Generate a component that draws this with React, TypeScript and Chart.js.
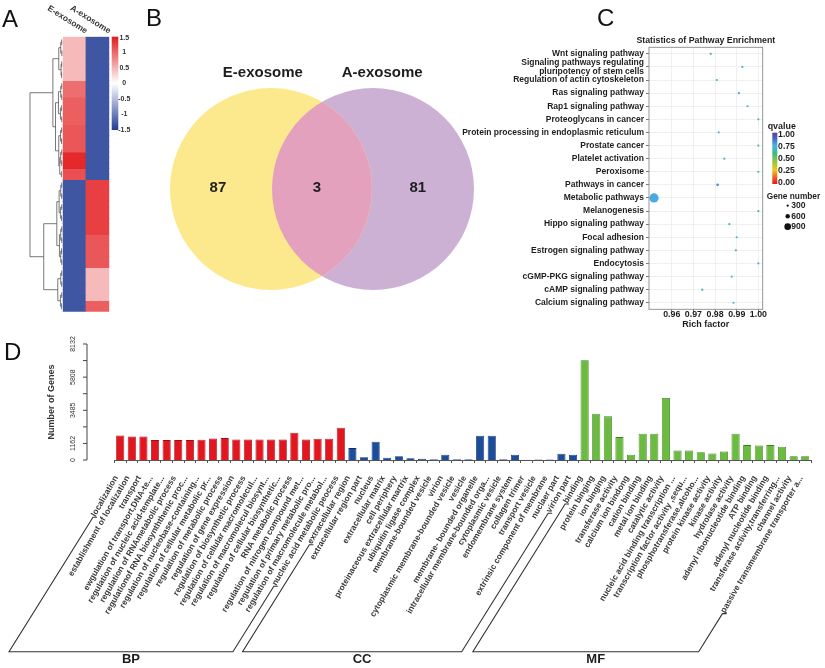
import React, { useEffect, useRef } from "react";
import { Chart, registerables } from "chart.js";

Chart.register(...registerables);

const FONT = '"Liberation Sans", Arial, Helvetica, sans-serif';
Chart.defaults.font.family = FONT;
Chart.defaults.color = "#222";

// ================= Panel A : heatmap =================
const heatColumns = ["E-exosome", "A-exosome"];
const heatE = [
  0.45, 0.45, 0.45, 0.45, 0.45, 0.45, 0.45, 0.45,
  0.95, 0.95, 0.95,
  1.05, 1.05, 1.05, 1.05, 1.05,
  1.1, 1.1, 1.1, 1.1, 1.1,
  1.4, 1.4, 1.4,
  1.15, 1.15,
  -1.3, -1.3, -1.3, -1.3, -1.3, -1.3, -1.3, -1.3, -1.3, -1.3, -1.3, -1.3,
  -1.3, -1.3, -1.3, -1.3, -1.3, -1.3, -1.3, -1.3, -1.3, -1.3, -1.3, -1.3,
];
const heatA = [
  -1.3, -1.3, -1.3, -1.3, -1.3, -1.3, -1.3, -1.3, -1.3, -1.3, -1.3, -1.3, -1.3,
  -1.3, -1.3, -1.3, -1.3, -1.3, -1.3, -1.3, -1.3, -1.3, -1.3, -1.3, -1.3, -1.3,
  1.25, 1.25, 1.25, 1.25, 1.25, 1.25, 1.25, 1.25, 1.25, 1.25,
  1.1, 1.1, 1.1, 1.1, 1.1, 1.1,
  0.45, 0.45, 0.45, 0.45, 0.45, 0.45,
  1.05, 1.05,
];
const heatScaleValues = [1.5, 1, 0.5, 0, -0.5, -1, -1.5];
const heatScaleLabels = ["1.5", "1", "0.5", "0", "-0.5", "-1", "-1.5"];
// row dendrogram: [left, right, mergeHeight]; numbers are row indices
const rowTree: any = [
  [
    [[[0, 1, 0.3], [2, 3, 0.25], 0.6], [[4, 5, 0.3], [6, 7, 0.35], 0.5], 1.2],
    [
      [[[8, 9, 0.3], [10, 11, 0.3], 0.6], [[12, 13, 0.4], [14, 15, 0.3], 0.7], 1.3],
      [[[16, 17, 0.3], [18, 19, 0.35], 0.65], [[[20, 21, 0.3], [22, 23, 0.3], 0.6], [24, 25, 0.4], 0.9], 1.2],
      2.2,
    ],
    3.0,
  ],
  [
    [
      [[[26, 27, 0.3], [28, 29, 0.3], 0.6], [[30, 31, 0.3], [32, 33, 0.35], 0.7], 1.1],
      [[[34, 35, 0.3], [36, 37, 0.3], 0.6], [[38, 39, 0.35], [40, 41, 0.3], 0.6], 1.0],
      1.8,
    ],
    [[[42, 43, 0.3], [44, 45, 0.3], 0.6], [[46, 47, 0.3], [48, 49, 0.4], 0.7], 1.5],
    5.8,
  ],
  10,
];

// ================= Panel B : Venn =================
const vennSetNames = ["E-exosome", "A-exosome"];
const vennRegionCounts = [87, 3, 81]; // only E, both, only A
const vennCenters = [0, 1];
const vennRadius = 0.99;

// ================= Panel C : pathway enrichment =================
const pathways = [
  "Wnt signaling pathway",
  "Signaling pathways regulating\npluripotency of stem cells",
  "Regulation of actin cytoskeleton",
  "Ras signaling pathway",
  "Rap1 signaling pathway",
  "Proteoglycans in cancer",
  "Protein processing in endoplasmic reticulum",
  "Prostate cancer",
  "Platelet activation",
  "Peroxisome",
  "Pathways in cancer",
  "Metabolic pathways",
  "Melanogenesis",
  "Hippo signaling pathway",
  "Focal adhesion",
  "Estrogen signaling pathway",
  "Endocytosis",
  "cGMP-PKG signaling pathway",
  "cAMP signaling pathway",
  "Calcium signaling pathway",
];
const richFactor = [
  0.978, 0.9926, 0.9808, 0.991, 0.995, 1.0, 0.9817, 1.0, 0.9843, 1.0,
  0.9812, 0.9518, 1.0, 0.9866, 0.99, 0.9896, 1.0, 0.9877, 0.9741, 0.9885,
];
const qValue = [
  0.62, 0.7, 0.72, 0.78, 0.72, 0.7, 0.75, 0.68, 0.7, 0.66,
  0.8, 0.77, 0.65, 0.7, 0.74, 0.7, 0.72, 0.72, 0.68, 0.72,
];
const geneNumber = [
  150, 140, 200, 220, 200, 190, 170, 90, 130, 80,
  380, 1250, 100, 150, 190, 130, 240, 160, 190, 170,
];
const richTicks = [0.96, 0.97, 0.98, 0.99, 1.0];
const qLegendTicks = [1.0, 0.75, 0.5, 0.25, 0.0];
const geneLegend = [300, 600, 900];
const qStops: [number, string][] = [
  [0, "#e41a1c"], [0.14, "#f26522"], [0.27, "#f3c81a"], [0.45, "#8dc63f"],
  [0.6, "#3cb88a"], [0.75, "#47b6e6"], [0.88, "#4469c0"], [1, "#5e3c99"],
];

// ================= Panel D : GO bar chart =================
const bpTerms = [
  "localization",
  "establishment of localization",
  "transport",
  "ewgulation of transport,DNA-te...",
  "regulation of nucleic acid-template...",
  "regulation of RNAmetabolic process",
  "regulationof RNA biosynththenic proc...",
  "regulation of nucleobase-containing...",
  "regulation of cellular metabolic pr...",
  "regulation of metabolic process",
  "regulation of gene expression",
  "regulation of biosynthetic process",
  "regulation of cellular macromolecul...",
  "regulation of macromolecul biosynt...",
  "regulation of cellular biosynthetic...",
  "RNA metabolic process",
  "regulation of nitrogen compound met...",
  "regulation of primary metabolic pro...",
  "regulation of macromolecule metabol...",
  "nucleic acid metabolic peocess",
];
const bpCounts = [
  1725, 1655, 1655, 1395, 1395, 1395, 1395, 1420, 1515, 1535,
  1445, 1445, 1445, 1445, 1445, 1915, 1445, 1490, 1490, 2265,
];
const ccTerms = [
  "extracellular region",
  "extracellular region part",
  "nucleus",
  "extracellular matrix",
  "cell periphery",
  "proteinaceous extracellular martrix",
  "ubiquitin ligase complex",
  "membrane-bounded vesicle",
  "virion",
  "cytoplasmic membrane-bounded vesicle",
  "vesicle",
  "membrane- bounded organelle",
  "intracellular membrane-bounded orga...",
  "cytoplasmic vesicle",
  "endomembrane system",
  "collagen trimer",
  "transport vesicle",
  "extrinsic component of membrane",
  "nuclaer part",
  "virion part",
];
const ccCounts = [
  835, 200, 1280, 155, 270, 130, 85, 60, 365, 60,
  60, 1700, 1700, 60, 365, 25, 40, 40, 435, 365,
];
const mfTerms = [
  "binding",
  "protein binging",
  "ion binging",
  "transferase activity",
  "calcium ion bindong",
  "cation binding",
  "metal ion binding",
  "catalytic activity",
  "nucleic acid binding transcription ...",
  "transcription factor activity ,sequ...",
  "phosphotransferase,alcoho...",
  "protein kinase activity",
  "kinase activity",
  "hydrolase activity",
  "adenyl ribonucleotide binding",
  "ATP binding",
  "adenyl nucleotide binding",
  "transferase activity,transferring...",
  "channel activity",
  "passive transmembrane transporter a...",
];
const mfCounts = [
  7000, 3250, 3060, 1605, 365, 1840, 1840, 4350, 670, 670,
  550, 460, 600, 1840, 1045, 1020, 1045, 930, 270, 270,
];
const goGroups = ["BP", "CC", "MF"];
const geneAxisTicks = [0, 1162, 2324, 3485, 4647, 5808, 6970, 8132];
const geneAxisLabels = ["0", "1162", "", "3485", "", "5808", "", "8132"];

// ================= helpers =================
function hexToRgb(h: string) {
  const n = parseInt(h.slice(1), 16);
  return [(n >> 16) & 255, (n >> 8) & 255, n & 255];
}
function heatColor(v: number) {
  const t = Math.max(-1, Math.min(1, v / 1.5));
  const end = t >= 0 ? hexToRgb("#e31a1c") : hexToRgb("#223c94");
  const a = Math.abs(t);
  const c = end.map((e) => Math.round(255 + (e - 255) * a));
  return `rgb(${c[0]},${c[1]},${c[2]})`;
}
function qColor(v: number) {
  for (let i = 1; i < qStops.length; i++) {
    if (v <= qStops[i][0] || i === qStops.length - 1) {
      const [p0, h0] = qStops[i - 1];
      const [p1, h1] = qStops[i];
      const t = Math.max(0, Math.min(1, (v - p0) / (p1 - p0)));
      const c0 = hexToRgb(h0), c1 = hexToRgb(h1);
      const c = c0.map((x, k) => Math.round(x + (c1[k] - x) * t));
      return `rgb(${c[0]},${c[1]},${c[2]})`;
    }
  }
  return qStops[0][1];
}
function geneRadius(n: number) {
  return Math.max(1.1, n / 270);
}

const baseOpts = {
  animation: false as const,
  responsive: false,
  events: [] as any[],
};

export default function App() {
  const refA = useRef<HTMLCanvasElement>(null);
  const refB = useRef<HTMLCanvasElement>(null);
  const refC = useRef<HTMLCanvasElement>(null);
  const refD = useRef<HTMLCanvasElement>(null);

  useEffect(() => {
    const charts: Chart[] = [];

    // ---------- A ----------
    const heatPlugin = {
      id: "heatExtras",
      afterDraw(chart: any) {
        const ctx = chart.ctx;
        const xs = chart.scales.x, ys = chart.scales.y;
        const { left, right, top } = chart.chartArea;
        ctx.save();
        const k = 3.27;
        ctx.strokeStyle = "#555";
        ctx.lineWidth = 0.8;
        const drawNode = (node: any): { x: number; y: number } => {
          if (typeof node === "number") return { x: left - 1, y: ys.getPixelForValue(node + 0.5) };
          const a = drawNode(node[0]);
          const b = drawNode(node[1]);
          const x = left - node[2] * k;
          ctx.beginPath();
          ctx.moveTo(a.x, a.y);
          ctx.lineTo(x, a.y);
          ctx.lineTo(x, b.y);
          ctx.lineTo(b.x, b.y);
          ctx.stroke();
          return { x, y: (a.y + b.y) / 2 };
        };
        drawNode(rowTree);
        ctx.fillStyle = "#333";
        ctx.font = `bold 8.5px ${FONT}`;
        ctx.textAlign = "right";
        ctx.textBaseline = "alphabetic";
        heatColumns.forEach((name, i) => {
          ctx.save();
          ctx.translate(xs.getPixelForValue(i) + 11, top - 3);
          ctx.rotate((32 * Math.PI) / 180);
          ctx.fillText(name, 0, 0);
          ctx.restore();
        });
        const cx = right + 2.4, cw = 6.6, ch = 93.3;
        const g = ctx.createLinearGradient(0, top, 0, top + ch);
        g.addColorStop(0, heatColor(1.5));
        g.addColorStop(0.5, heatColor(0));
        g.addColorStop(1, heatColor(-1.5));
        ctx.fillStyle = g;
        ctx.fillRect(cx, top, cw, ch);
        ctx.fillStyle = "#333";
        ctx.font = `bold 7px ${FONT}`;
        ctx.textAlign = "center";
        ctx.textBaseline = "middle";
        heatScaleValues.forEach((v, i) => {
          const y = top + ((1.5 - v) / 3) * ch;
          ctx.fillText(heatScaleLabels[i], cx + cw + 6, y + (i === 0 ? 1.5 : 0));
        });
        ctx.restore();
      },
    };
    charts.push(
      new Chart(refA.current!, {
        type: "bar",
        data: {
          labels: heatColumns,
          datasets: heatE.map((e, i) => ({
            data: [1, 1],
            backgroundColor: [heatColor(e), heatColor(heatA[i])],
            borderWidth: 0,
            inflateAmount: 0.4,
            categoryPercentage: 1,
            barPercentage: 1,
          })),
        },
        options: {
          ...baseOpts,
          layout: { padding: { left: 62.7, right: 30.7, top: 36.7, bottom: 18.3 } },
          plugins: { legend: { display: false }, tooltip: { enabled: false } },
          scales: {
            x: { display: false, stacked: true },
            y: { display: false, stacked: true, min: 0, max: heatE.length, reverse: true },
          },
        } as any,
        plugins: [heatPlugin],
      })
    );

    // ---------- B ----------
    const vennFills = ["#fde98d", "#cdb1d4"];
    const vennPlugin = {
      id: "vennExtras",
      afterDatasetsDraw(chart: any) {
        const ctx = chart.ctx;
        const xs = chart.scales.x, ys = chart.scales.y;
        const R = Math.abs(xs.getPixelForValue(vennRadius) - xs.getPixelForValue(0));
        const y0 = ys.getPixelForValue(0);
        const c1 = xs.getPixelForValue(vennCenters[0]);
        const c2 = xs.getPixelForValue(vennCenters[1]);
        ctx.save();
        ctx.beginPath();
        ctx.arc(c1, y0, R, 0, Math.PI * 2);
        ctx.clip();
        ctx.beginPath();
        ctx.arc(c2, y0, R, 0, Math.PI * 2);
        ctx.fillStyle = "#e3a1be";
        ctx.fill();
        ctx.restore();
        ctx.save();
        ctx.fillStyle = "#1e1e1e";
        ctx.textAlign = "center";
        ctx.textBaseline = "middle";
        ctx.font = `bold 15px ${FONT}`;
        const nameX = [vennCenters[0] - 0.08, vennCenters[1] + 0.09];
        vennSetNames.forEach((n, i) => {
          ctx.fillText(n, xs.getPixelForValue(nameX[i]), ys.getPixelForValue(1.14));
        });
        const regionX = [vennCenters[0] - 0.52, (vennCenters[0] + vennCenters[1]) / 2 - 0.05, vennCenters[1] + 0.44];
        vennRegionCounts.forEach((c, i) => {
          ctx.fillText(String(c), xs.getPixelForValue(regionX[i]), ys.getPixelForValue(0.01));
        });
        ctx.restore();
      },
    };
    charts.push(
      new Chart(refB.current!, {
        type: "scatter",
        data: {
          datasets: vennSetNames.map((n, i) => ({
            label: n,
            data: [{ x: vennCenters[i], y: 0 }],
            pointBackgroundColor: vennFills[i],
            pointBorderWidth: 0,
            pointRadius: (ctx: any) => {
              const s = ctx.chart.scales.x;
              return Math.abs(s.getPixelForValue(vennRadius) - s.getPixelForValue(0));
            },
            clip: false,
          })),
        },
        options: {
          ...baseOpts,
          layout: { padding: 0 },
          plugins: { legend: { display: false }, tooltip: { enabled: false } },
          scales: {
            x: { type: "linear", display: false, min: -1.2843, max: 2.0981 },
            y: { type: "linear", display: false, min: -1.3824, max: 1.8529 },
          },
        } as any,
        plugins: [vennPlugin],
      })
    );

    // ---------- C ----------
    const pathPlugin = {
      id: "pathExtras",
      afterDraw(chart: any) {
        const ctx = chart.ctx;
        const { left, right, top, bottom } = chart.chartArea;
        ctx.save();
        ctx.strokeStyle = "#8a8a8a";
        ctx.lineWidth = 0.9;
        ctx.strokeRect(left, top, right - left, bottom - top);
        ctx.fillStyle = "#1e1e1e";
        ctx.textAlign = "center";
        ctx.textBaseline = "middle";
        ctx.font = `bold 8.8px ${FONT}`;
        ctx.fillText("Statistics of Pathway Enrichment", (left + right) / 2, top - 6.6);
        ctx.textAlign = "left";
        ctx.font = `bold 8.9px ${FONT}`;
        ctx.fillText("qvalue", right + 5, 126.5);
        const bx = right + 9.6, bw = 5, bt = 132.7, bh = 51.3;
        const g = ctx.createLinearGradient(0, bt, 0, bt + bh);
        qStops.forEach(([p, c]) => g.addColorStop(1 - p, c));
        ctx.fillStyle = g;
        ctx.fillRect(bx, bt, bw, bh);
        ctx.fillStyle = "#1e1e1e";
        ctx.font = `bold 8.6px ${FONT}`;
        qLegendTicks.forEach((v) => {
          ctx.fillText(v.toFixed(2), bx + bw + 0.8, bt + bh - 1.7 - v * (bh - 3.4));
        });
        ctx.font = `bold 8.3px ${FONT}`;
        ctx.fillText("Gene number", right + 4, 196.7);
        ctx.font = `bold 8.6px ${FONT}`;
        geneLegend.forEach((n, i) => {
          const y = 205.7 + i * 10.5;
          ctx.beginPath();
          ctx.arc(right + 25, y, geneRadius(n), 0, Math.PI * 2);
          ctx.fillStyle = "#111";
          ctx.fill();
          ctx.fillStyle = "#1e1e1e";
          ctx.fillText(String(n), right + 28.5, y);
        });
        ctx.restore();
      },
    };
    const pathwayLabels = pathways.map((p) => (p.includes("\n") ? p.split("\n") : p));
    charts.push(
      new Chart(refC.current!, {
        type: "bubble",
        data: {
          datasets: [
            {
              data: pathways.map((p, i) => ({ x: richFactor[i], y: i, r: geneRadius(geneNumber[i]) })),
              backgroundColor: qValue.map(qColor),
              borderWidth: 0,
              hoverRadius: 0,
            },
          ],
        },
        options: {
          ...baseOpts,
          layout: { padding: { top: 47.3, right: 62.3, bottom: 0, left: 0 } },
          plugins: { legend: { display: false }, tooltip: { enabled: false } },
          scales: {
            x: {
              type: "linear",
              min: 0.9495,
              max: 1.002,
              afterBuildTicks: (s: any) => {
                s.ticks = richTicks.map((v) => ({ value: v }));
              },
              afterFit: (s: any) => {
                s.height = 30.7;
              },
              grid: { color: "#ececec", lineWidth: 0.8, tickColor: "#555", tickLength: 3 },
              border: { display: false },
              ticks: {
                font: { size: 8.8, weight: "bold" },
                color: "#1e1e1e",
                padding: -3.5,
                maxRotation: 0,
                callback: (v: any) => Number(v).toFixed(2),
              },
              title: {
                display: true,
                text: "Rich factor",
                font: { size: 9, weight: "bold" },
                color: "#1e1e1e",
                padding: { top: 0, bottom: 10 },
              },
            },
            y: {
              type: "category",
              labels: pathwayLabels,
              offset: true,
              afterFit: (s: any) => {
                s.width = 189;
              },
              grid: { color: "#ececec", lineWidth: 0.8, tickColor: "#555", tickLength: 3 },
              border: { display: false },
              ticks: { font: { size: 8.5, weight: "bold", lineHeight: 1.0 }, color: "#1e1e1e", padding: 2, autoSkip: false },
            },
          },
        } as any,
        plugins: [pathPlugin],
      })
    );

    // ---------- D ----------
    const groupTerms = [bpTerms, ccTerms, mfTerms];
    const groupCounts = [bpCounts, ccCounts, mfCounts];
    const groupFill = ["#e3151f", "#1c4c9c", "#6bbb40"];
    const groupEdge = ["#9b0e14", "#0f2e66", "#3f7d22"];
    const allTerms = groupTerms.flat();
    const allCounts = groupCounts.flat();
    const fills = groupTerms.flatMap((t, g) => t.map(() => groupFill[g]));
    const edges = groupTerms.flatMap((t, g) => t.map(() => groupEdge[g]));
    const tickFontSize = 8.4;
    const tickPad = 11;
    const tickLen = 3;
    const labelShift = -4;
    const goPlugin = {
      id: "goExtras",
      afterDraw(chart: any) {
        const ctx = chart.ctx;
        const xs = chart.scales.x, ys = chart.scales.y;
        const { left, top, bottom } = chart.chartArea;
        ctx.save();
        const ax = left - 27.4;
        ctx.strokeStyle = "#444";
        ctx.lineWidth = 1;
        ctx.beginPath();
        ctx.moveTo(ax, ys.getPixelForValue(geneAxisTicks[0]));
        ctx.lineTo(ax, ys.getPixelForValue(geneAxisTicks[geneAxisTicks.length - 1]));
        ctx.stroke();
        ctx.fillStyle = "#333";
        ctx.font = `7px ${FONT}`;
        ctx.textAlign = "center";
        ctx.textBaseline = "middle";
        geneAxisTicks.forEach((v, i) => {
          const y = ys.getPixelForValue(v);
          ctx.beginPath();
          ctx.moveTo(ax, y);
          ctx.lineTo(ax - 4, y);
          ctx.stroke();
          if (geneAxisLabels[i]) {
            ctx.save();
            ctx.translate(ax - 14.3, y);
            ctx.rotate(-Math.PI / 2);
            ctx.fillText(geneAxisLabels[i], 0, 0);
            ctx.restore();
          }
        });
        ctx.save();
        ctx.font = `bold 9px ${FONT}`;
        ctx.translate(ax - 35.3, (top + bottom) / 2);
        ctx.rotate(-Math.PI / 2);
        ctx.fillText("Number of Genes", 0, 0);
        ctx.restore();

        const th = (xs.labelRotation * Math.PI) / 180;
        const cos = Math.cos(th), sin = Math.sin(th);
        const y0 = xs.top + tickLen + tickPad;
        const off = (tickFontSize * 1.2) / 2;
        ctx.font = `bold ${tickFontSize}px ${FONT}`;
        const startOf = (i: number) => {
          const w = ctx.measureText(allTerms[i]).width;
          const x = xs.getPixelForTick(i) + labelShift;
          return { x: x - w * cos + off * sin - 1.5 * cos, y: y0 + w * sin + off * cos + 1.5 * sin };
        };
        const by = bottom + 191.7;
        const slope = Math.tan((58 * Math.PI) / 180);
        ctx.strokeStyle = "#333";
        ctx.lineWidth = 1.1;
        let idx = 0;
        goGroups.forEach((name, gi) => {
          const n = groupTerms[gi].length;
          const a = startOf(idx);
          const b = startOf(idx + n - 1);
          const ax0 = a.x - 4, bx0 = b.x - 4;
          const aBottom = ax0 - (by - a.y) / slope;
          const bBottom = bx0 - (by - b.y) / slope;
          ctx.beginPath();
          ctx.moveTo(a.x, a.y);
          ctx.lineTo(ax0, a.y);
          ctx.lineTo(aBottom, by);
          ctx.lineTo(bBottom, by);
          ctx.lineTo(bx0, b.y);
          ctx.lineTo(b.x, b.y);
          ctx.stroke();
          ctx.save();
          ctx.fillStyle = "#1e1e1e";
          ctx.font = `bold 13px ${FONT}`;
          ctx.textAlign = "center";
          ctx.textBaseline = "alphabetic";
          ctx.fillText(name, (aBottom + bBottom) / 2 + 10, by + 11.6);
          ctx.restore();
          idx += n;
        });
        ctx.restore();
      },
    };
    charts.push(
      new Chart(refD.current!, {
        type: "bar",
        data: {
          labels: allTerms,
          datasets: [
            {
              data: allCounts,
              backgroundColor: fills,
              borderColor: edges,
              borderWidth: 0.8,
              barPercentage: 0.7,
              categoryPercentage: 1,
            },
          ],
        },
        options: {
          ...baseOpts,
          layout: { padding: { left: 114.4, right: 3.6, top: 14, bottom: 0 } },
          plugins: { legend: { display: false }, tooltip: { enabled: false } },
          scales: {
            x: {
              afterFit: (s: any) => {
                s.height = 208;
              },
              grid: { display: true, drawOnChartArea: false, offset: true, tickLength: tickLen, color: "#555", tickColor: "#555" },
              border: { display: true, color: "#555", width: 1 },
              ticks: {
                autoSkip: false,
                minRotation: 60,
                maxRotation: 60,
                padding: tickPad,
                labelOffset: labelShift,
                font: { size: tickFontSize, weight: "bold" },
                color: "#3a3a3a",
              },
            },
            y: { display: false, min: 0, max: geneAxisTicks[geneAxisTicks.length - 1] },
          },
        } as any,
        plugins: [goPlugin],
      })
    );

    return () => charts.forEach((c) => c.destroy());
  }, []);

  const letter = (t: string, left: number, top: number) => (
    <div
      style={{
        position: "absolute",
        left,
        top,
        fontFamily: FONT,
        fontSize: 24,
        lineHeight: "24px",
        color: "#111",
      }}
    >
      {t}
    </div>
  );

  return (
    <div
      style={{
        position: "absolute",
        left: 0,
        top: 0,
        width: 825,
        height: 668,
        background: "#fff",
        overflow: "hidden",
      }}
    >
      <canvas ref={refA} width={140} height={330} style={{ position: "absolute", left: 0, top: 0 }} />
      <canvas ref={refB} width={345} height={330} style={{ position: "absolute", left: 140, top: 0 }} />
      <canvas ref={refC} width={365} height={340} style={{ position: "absolute", left: 460, top: 0 }} />
      <canvas ref={refD} width={825} height={338} style={{ position: "absolute", left: 0, top: 330 }} />
      {letter("A", 2, 7)}
      {letter("B", 146, 6)}
      {letter("C", 597, 6)}
      {letter("D", 4, 339.6)}
    </div>
  );
}
